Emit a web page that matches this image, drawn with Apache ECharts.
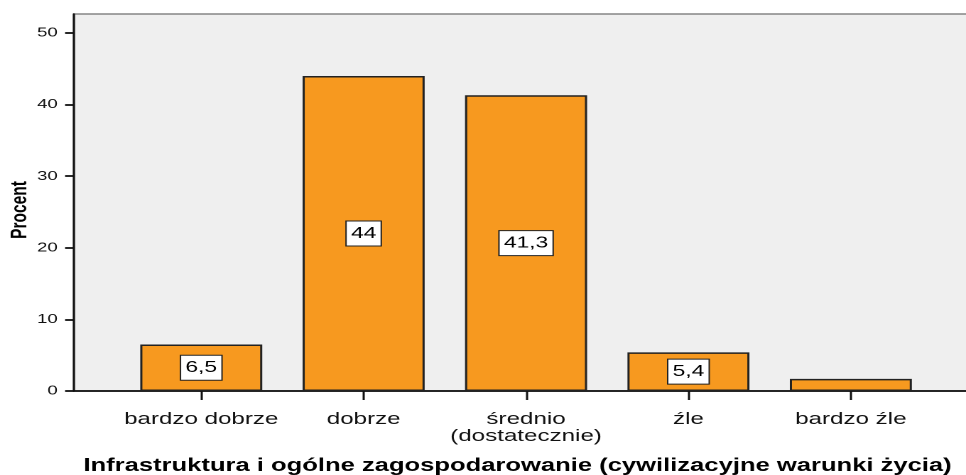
<!DOCTYPE html>
<html>
<head>
<meta charset="utf-8">
<script src="https://cdn.jsdelivr.net/npm/echarts@6/dist/echarts.min.js"></script>
<style>
html,body{margin:0;padding:0;background:#fff;overflow:hidden;}
#wrap{width:966px;height:475px;overflow:hidden;}
#c{width:680px;height:475px;transform:scaleX(1.420588);transform-origin:0 0;}
</style>
</head>
<body>
<div id="wrap"><div id="c"></div></div>
<script>
var categories = ['bardzo dobrze', 'dobrze', 'średnio\n(dostatecznie)', 'źle', 'bardzo źle'];
var values = [6.5, 44, 41.3, 5.4, 1.7];
var valueLabels = ['6,5', '44', '41,3', '5,4', ''];
var yTicks = [0, 10, 20, 30, 40, 50];

var barData = values.map(function (v, i) {
  return valueLabels[i] ? {value: v} : {value: v, label: {show: false}};
});

var chart = echarts.init(document.getElementById('c'), null, {renderer: 'canvas', devicePixelRatio: 2});
var font = 'Liberation Sans, Arial, Helvetica, sans-serif';
var gridTop = 14, gridBottom = 84;
chart.setOption({
  animation: false,
  textStyle: {fontFamily: font},
  grid: [
    {left: 52.1, right: -3, top: gridTop, bottom: gridBottom, show: true, backgroundColor: '#efefef',
     borderColor: '#858585', borderWidth: 1.5, outerBoundsMode: 'none', containLabel: false},
    {left: 84.5, right: 23.9, top: gridTop, bottom: gridBottom, outerBoundsMode: 'none', containLabel: false}
  ],
  xAxis: [
    {gridIndex: 0, type: 'value', min: 0, max: 1, show: true,
     axisLine: {show: true, lineStyle: {color: '#111', width: 1.8}},
     axisTick: {show: false}, axisLabel: {show: false}, splitLine: {show: false}},
    {gridIndex: 1, type: 'category', data: categories,
     axisLine: {show: false},
     axisTick: {show: true, alignWithLabel: true, length: 9, lineStyle: {color: '#111', width: 1.5}},
     axisLabel: {color: '#111', fontSize: 17, fontFamily: font, margin: 20, lineHeight: 17, interval: 0},
     name: 'Infrastruktura i ogólne zagospodarowanie (cywilizacyjne warunki życia)',
     nameLocation: 'middle', nameGap: 66, nameMoveOverlap: false,
     nameTextStyle: {color: '#000', fontSize: 18, fontWeight: 'bold', fontFamily: font, padding: [0, 12, 0, 0]}}
  ],
  yAxis: [
    {gridIndex: 0, type: 'value', min: 0, max: 52.65, interval: 10,
     axisLine: {show: true, lineStyle: {color: '#111', width: 1.5}},
     axisTick: {show: true, length: 6.3, customValues: yTicks, lineStyle: {color: '#111', width: 1.8}},
     axisLabel: {color: '#111', fontSize: 13, margin: 11.5, fontFamily: font, customValues: yTicks},
     splitLine: {show: false},
     name: 'Procent', nameLocation: 'middle', nameGap: 30, nameRotate: 90, nameMoveOverlap: false,
     nameTextStyle: {color: '#000', fontSize: 15.5, fontWeight: 'bold', fontFamily: font, padding: [0, 15, 0, 0]}},
    {gridIndex: 1, type: 'value', min: 0, max: 52.65, show: false}
  ],
  series: [{
    type: 'bar', xAxisIndex: 1, yAxisIndex: 1,
    data: barData, barWidth: 85.9,
    itemStyle: {color: '#f7991f', borderColor: '#222', borderWidth: 1.5},
    label: {show: true, position: 'inside', color: '#000', fontSize: 16, fontFamily: font,
      backgroundColor: '#fff', borderColor: '#222', borderWidth: 1, padding: [5, 3, 3, 3],
      formatter: function (p) { return valueLabels[p.dataIndex]; }}
  }]
});
</script>
</body>
</html>
